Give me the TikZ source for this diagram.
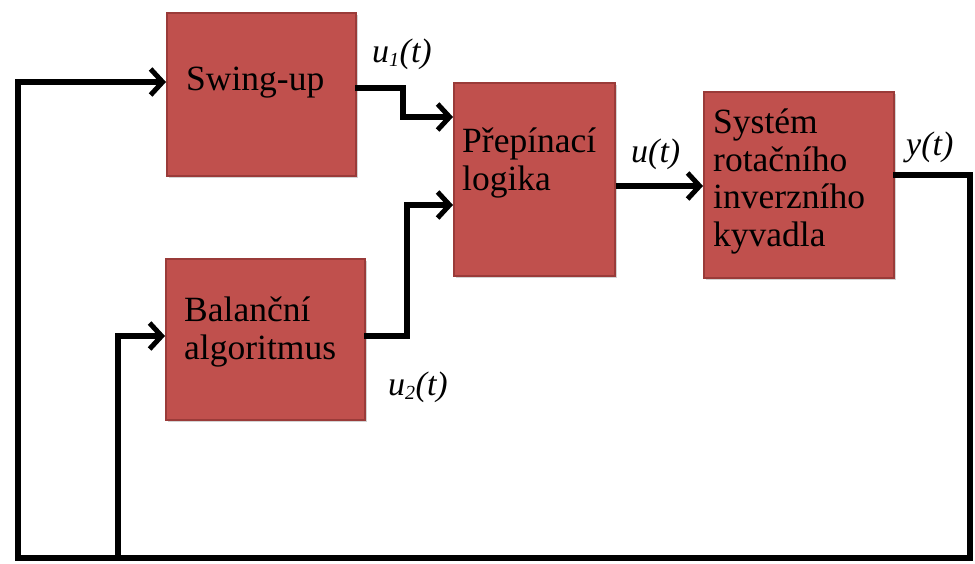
\documentclass[tikz,border=0pt]{standalone}
\usepackage{fontspec}
\setmainfont{Liberation Serif}
\usetikzlibrary{arrows.meta,calc,shadows}
\definecolor{boxfill}{HTML}{C0504D}
\definecolor{boxedge}{HTML}{9A3B39}
\tikzset{
  blockbox/.style={draw=boxedge, line width=1.5pt, fill=boxfill, inner sep=0pt,
    anchor=north west, drop shadow={shadow xshift=2pt, shadow yshift=-2pt, opacity=0.35}},
  blocktext/.style={anchor=base west, align=left, inner sep=0pt,
    font=\fontsize{35.5}{37.5}\selectfont, text=black},
  siglabel/.style={anchor=base west, inner sep=0pt, font=\fontsize{34}{36}\selectfont\itshape},
  wire/.style={line width=5.5pt, line join=miter},
  flow/.style={wire, -{Straight Barb[length=12pt, width=26pt, line width=5pt]}}
}
\begin{document}
\begin{tikzpicture}[x=1pt, y=-1pt]
\useasboundingbox (0,0) rectangle (975,563);

% blocks
\node[blockbox, minimum width=189pt, minimum height=163pt] (swing) at (166,12) {};
\node[blockbox, minimum width=199pt, minimum height=161pt] (bal) at (165,258) {};
\node[blockbox, minimum width=161pt, minimum height=193pt] (logic) at (453,82) {};
\node[blockbox, minimum width=190pt, minimum height=186pt] (sys) at (703,91) {};

% block captions (anchored at the baseline of their last line)
\node[blocktext] (swingtxt) at (186,90) {Swing-up};
\node[blocktext] (baltxt) at (184,359) {Balanční\\algoritmus};
\node[blocktext] (logictxt) at (462,190) {Přepínací\\logika};
\node[blocktext] (systxt) at (713,246) {Systém\\rotačního\\inverzního\\kyvadla};

% signal names
\node[siglabel] (lu1) at (372,62) {u\textsubscript{\fontsize{20}{20}\selectfont 1}(t)};
\node[siglabel] (lu2) at (388,395) {u\textsubscript{\fontsize{20}{20}\selectfont 2}(t)};
\node[siglabel] (lu) at (631,162) {u(t)};
\node[siglabel] (ly) at (906,155) {y(t)};

% routing points
\coordinate (yout) at (893,175);
\coordinate (cR) at (970,175);
\coordinate (cBR) at (970,558);
\coordinate (cBL) at (18,558);
\coordinate (cTL) at (18,82);
\coordinate (tap) at (118,558);
\coordinate (tapUp) at (118,336);
\coordinate (s1a) at (355,88);
\coordinate (s1b) at (403,88);
\coordinate (s1c) at (403,117);
\coordinate (s2a) at (364,336);
\coordinate (s2b) at (407,336);
\coordinate (s2c) at (407,205);

% signal flow
\draw[flow] (s1a) -- (s1b) -- (s1c) -- (s1c -| logic.west);
\draw[flow] (s2a) -- (s2b) -- (s2c) -- (s2c -| logic.west);
\draw[flow] (logic.east |- 0,186) -- (sys.west |- 0,186);

% feedback paths
\draw[flow] (yout) -- (cR) -- (cBR) -- (cBL) -- (cTL) -- (cTL -| swing.west);
\draw[flow] (tap) -- (tapUp) -- (tapUp -| bal.west);
\end{tikzpicture}
\end{document}
